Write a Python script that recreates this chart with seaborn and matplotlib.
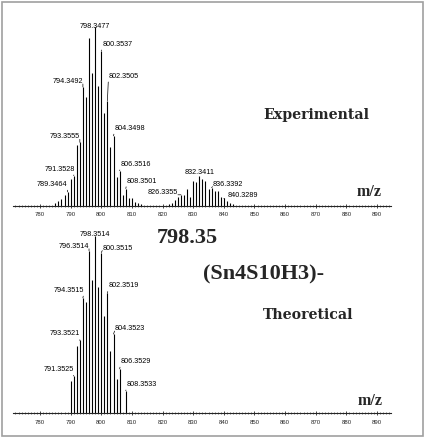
import numpy as np
import pandas as pd
import matplotlib.pyplot as plt
from matplotlib.patches import Rectangle
from matplotlib.ticker import MultipleLocator
import seaborn as sns

# Experimental spectrum (relative intensity)
exp_mz = [785, 786, 787, 788, 789, 790, 791, 792, 793, 794, 795, 796, 797, 798, 799,
          800, 801, 802, 803, 804, 805, 806, 807, 808, 809, 810, 811, 812, 813,
          822, 823, 824, 825, 826, 827, 828, 829, 830, 831, 832, 833, 834, 835,
          836, 837, 838, 839, 840, 841, 842, 843]
exp_int = [0.015, 0.025, 0.035, 0.06, 0.076, 0.15, 0.167, 0.34, 0.354, 0.664, 0.61, 0.94, 0.74, 1.0, 0.67,
           0.867, 0.52, 0.587, 0.33, 0.39, 0.16, 0.195, 0.06, 0.095, 0.04, 0.04, 0.02, 0.015, 0.01,
           0.01, 0.015, 0.03, 0.045, 0.06, 0.06, 0.095, 0.045, 0.14, 0.13, 0.165, 0.15, 0.135, 0.09,
           0.10, 0.08, 0.08, 0.045, 0.04, 0.025, 0.015, 0.01]
exp_label_mz = [798, 800, 794, 802, 793, 804, 791, 806, 789, 808, 826, 832, 836, 840]
exp_label_txt = ['798.3477', '800.3537', '794.3492', '802.3505', '793.3555', '804.3498', '791.3528',
                 '806.3516', '789.3464', '808.3501', '826.3355', '832.3411', '836.3392', '840.3289']

# Theoretical isotope pattern
theo_mz = [790, 791, 792, 793, 794, 795, 796, 797, 798, 799, 800, 801, 802, 803, 804, 805, 806, 808]
theo_int = [0.18, 0.21, 0.38, 0.41, 0.65, 0.625, 0.915, 0.75, 1.0, 0.71, 0.905, 0.546, 0.676, 0.352,
            0.446, 0.193, 0.25, 0.127]
theo_label_mz = [798, 796, 800, 794, 802, 793, 804, 791, 806, 808]
theo_label_txt = ['798.3514', '796.3514', '800.3515', '794.3515', '802.3519', '793.3521', '804.3523',
                  '791.3525', '806.3529', '808.3533']

major_ticks = [780, 790, 800, 810, 820, 830, 840, 850, 860, 870, 880, 890]

# label placement (pixel offsets from the peak top, alignment)
exp_offsets = {'798.3477': (0, 0, 'center'), '800.3537': (1, 6, 'left'), '794.3492': (0, 5, 'right'),
               '802.3505': (1, 24, 'left'), '793.3555': (0, 5, 'right'), '804.3498': (1, 7, 'left'),
               '791.3528': (1, 6, 'right'), '806.3516': (1, 6, 'left'), '789.3464': (0, 7, 'right'),
               '808.3501': (1, 7, 'left'), '826.3355': (-3, 2, 'right'), '832.3411': (0, 3, 'center'),
               '836.3392': (1, 3, 'left'), '840.3289': (4, 2, 'left')}
theo_offsets = {'798.3514': (0, 1, 'center'), '796.3514': (0, 4, 'right'), '800.3515': (1, 4, 'left'),
                '794.3515': (1, 7, 'right'), '802.3519': (1, 7, 'left'), '793.3521': (0, 6, 'right'),
                '804.3523': (1, 5, 'left'), '791.3525': (0, 6, 'right'), '806.3529': (1, 7, 'left'),
                '808.3533': (1, 6, 'left')}

sns.set_style('white')
plt.rcParams['font.family'] = ['Liberation Sans', 'DejaVu Sans']

W, H = 433, 439
fig = plt.figure(figsize=(W / 100, H / 100), dpi=100)

x0, x1 = 12.5, 391
xlim = (780 + (x0 - 40) / 3.064, 780 + (x1 - 40) / 3.064)


def px_axes(top, bottom):
    return [x0 / W, 1 - bottom / H, (x1 - x0) / W, (bottom - top) / H]


def spectrum(ax, mz, inten, lab_mz, lab_txt, offsets):
    df = pd.DataFrame({'mz': mz, 'intensity': inten})
    ax.vlines(df['mz'], 0, df['intensity'], color='k', lw=0.8)
    for m, txt in zip(lab_mz, lab_txt):
        h = df.loc[df['mz'] == m, 'intensity'].iloc[0]
        dx, dy, ha = offsets[txt]
        kw = dict(xytext=(dx, dy), textcoords='offset pixels', ha=ha, va='baseline',
                  fontsize=5.2, color='k')
        if ha != 'center':
            kw['arrowprops'] = dict(arrowstyle='-', lw=0.5, color='k', shrinkA=0, shrinkB=0,
                                    relpos=(1, 0) if ha == 'right' else (0, 0))
        ax.annotate(txt, (m, h), **kw)
    ax.set_xlim(*xlim)
    ax.set_ylim(0, 1)
    ax.set_xticks(major_ticks)
    ax.xaxis.set_minor_locator(MultipleLocator(1))
    ax.set_yticks([])
    ax.tick_params(axis='x', which='major', direction='inout', length=3.5, width=0.6,
                   labelsize=4.3, pad=2.5, bottom=True)
    ax.tick_params(axis='x', which='minor', direction='inout', length=1.8, width=0.45, bottom=True)
    ax.patch.set_alpha(0)
    sns.despine(ax=ax, left=True)
    ax.spines['bottom'].set_linewidth(0.8)


ax1 = fig.add_axes(px_axes(28, 206.5))
spectrum(ax1, exp_mz, exp_int, exp_label_mz, exp_label_txt, exp_offsets)
ax2 = fig.add_axes(px_axes(236.7, 414.3))
spectrum(ax2, theo_mz, theo_int, theo_label_mz, theo_label_txt, theo_offsets)


def ftext(x, y, s, **kw):
    fig.text(x / W, 1 - y / H, s, ha='left', va='baseline', fontweight='bold', **kw)


ftext(263, 119.5, 'Experimental', family='DejaVu Serif', fontsize=10.2)
ftext(263, 319.5, 'Theoretical', family='DejaVu Serif', fontsize=10.2)
ftext(357, 196, 'm/z', family='Liberation Serif', fontsize=11.5)
ftext(358, 405, 'm/z', family='Liberation Serif', fontsize=11.5)
ftext(157, 243.5, '798.35', family='Liberation Serif', fontsize=16)
ftext(203, 279, '(Sn4S10H3)-', family='Liberation Serif', fontsize=16)

fig.add_artist(Rectangle((2 / W, 2.5 / H), 420.5 / W, 434 / H, transform=fig.transFigure,
                         fill=False, ec='#a0a0a0', lw=1.2))

fig.savefig('out.png', dpi=100)
